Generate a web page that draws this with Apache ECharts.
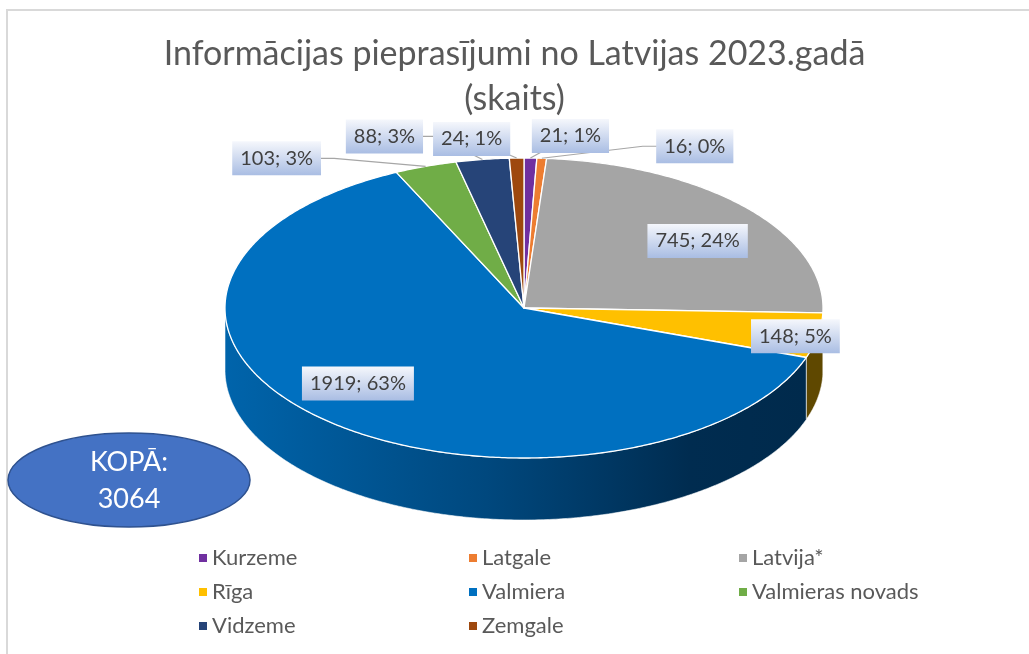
<!DOCTYPE html>
<html>
<head>
<meta charset="utf-8">
<title>Informācijas pieprasījumi no Latvijas 2023</title>
<style>
  html, body { margin: 0; padding: 0; background: #fff; }
  #chart { width: 1029px; height: 654px; }
</style>
</head>
<body>
<div id="chart"></div>
<script src="https://cdn.jsdelivr.net/npm/echarts@6/dist/echarts.min.js"></script>
<script>
var regions = ['Kurzeme', 'Latgale', 'Latvija*', 'Rīga', 'Valmiera', 'Valmieras novads', 'Vidzeme', 'Zemgale'];
var counts = [21, 16, 745, 148, 1919, 103, 88, 24];
var shares = ['1%', '0%', '24%', '5%', '63%', '3%', '3%', '1%'];

var topColors = ['#7030a0', '#ed7d31', '#a5a5a5', '#ffc000', '#0070c0', '#70ad47', '#264478', '#9e480e'];
var sideColors = ['#3a1854', '#7a3f18', '#565656', '#5f4800', null, '#3a5a25', '#13233e', '#512507'];

// label placement: [radius factor, dx, dy] from the slice point
var labelPlace = [[1, 40, -22], [1, 153, -12], [0.78, 0, 11], [0.92, 1, 3], [0.83, 0, -17], [1, -149, -8], [1, -98, -23], [1, -45, -19]];

var pie = { cx: 524, cy: 308, rx: 299, ry: 150, depth: 62 };
var FONT = 'Lato, "Noto Sans", sans-serif';

var total = 0;
counts.forEach(function (v) { total += v; });
var from = [], acc = 0;
counts.forEach(function (v) { from.push(acc / total); acc += v; });

function rim(a, k, dy) {
	return [pie.cx + pie.rx * k * Math.sin(a), pie.cy - pie.ry * k * Math.cos(a) + (dy || 0)];
}
function arc(a1, a2, dy) {
	var pts = [];
	var n = Math.max(2, Math.ceil((a2 - a1) / 0.01));
	for (var i = 0; i <= n; i++) pts.push(rim(a1 + (a2 - a1) * i / n, 1, dy));
	return pts;
}

function sideFill(i) {
	if (i === 4) {
		return new echarts.graphic.LinearGradient(0, 0, 1, 0, [
			{ offset: 0, color: '#0064ab' },
			{ offset: 0.45, color: '#00487e' },
			{ offset: 0.8, color: '#002c50' },
			{ offset: 1, color: '#002a4c' }
		]);
	}
	return sideColors[i];
}

function renderSlice(params, api) {
	var i = params.seriesIndex;
	var a1 = api.value(0) * Math.PI * 2;
	var a2 = api.value(1) * Math.PI * 2;
	var children = [];

	// front wall, only the half facing us
	var s = Math.max(a1, Math.PI / 2), e = Math.min(a2, Math.PI * 1.5);
	if (e > s) {
		var upper = arc(s, e, 0);
		var lower = arc(s, e, pie.depth).reverse();
		children.push({
			type: 'polygon', z2: 1,
			shape: { points: upper.concat(lower) },
			style: { fill: sideFill(i), stroke: 'rgba(255,255,255,0.7)', lineWidth: 0.8 }
		});
	}

	// top face
	children.push({
		type: 'polygon', z2: 5,
		shape: { points: [[pie.cx, pie.cy]].concat(arc(a1, a2, 0)) },
		style: { fill: api.visual('color'), stroke: '#fff', lineWidth: 1.3, lineJoin: 'round' }
	});

	// data label
	var p = labelPlace[i];
	var mid = (a1 + a2) / 2;
	var anchor = rim(mid, p[0], 0);
	var lx = anchor[0] + p[1], ly = anchor[1] + p[2];
	var txt = api.value(2) + '; ' + shares[i];
	if (p[0] === 1) {
		var halfW = txt.length * 5.5 + 8;
		var pts;
		if (Math.abs(p[1]) > halfW + 20) {
			var sg = p[1] > 0 ? -1 : 1;
			pts = [anchor, [lx + sg * (halfW + 11), ly], [lx, ly]];
		} else {
			pts = [anchor, [lx, ly]];
		}
		children.push({
			type: 'polyline', z2: 20,
			shape: { points: pts },
			style: { stroke: '#a6a6a6', lineWidth: 1.2, fill: null }
		});
	}
	children.push({
		type: 'text', z2: 30, x: lx, y: ly,
		style: {
			text: txt,
			fill: '#404040',
			font: '20px ' + FONT,
			align: 'center',
			verticalAlign: 'middle',
			padding: [7, 8],
			backgroundColor: new echarts.graphic.LinearGradient(0, 0, 0, 1, [
				{ offset: 0, color: '#f5f7fc' },
				{ offset: 1, color: '#a9bde3' }
			])
		}
	});
	return { type: 'group', children: children };
}

var chart = echarts.init(document.getElementById('chart'));

var seriesList = regions.map(function (name, i) {
	return {
		name: name,
		type: 'custom',
		coordinateSystem: 'none',
		itemStyle: { color: topColors[i] },
		renderItem: renderSlice,
		data: [[from[i], from[i] + counts[i] / total, counts[i]]]
	};
});

var option = {
	animation: false,
	color: topColors,
	title: {
		text: 'Informācijas pieprasījumi no Latvijas 2023.gadā\n(skaits)',
		left: 'center',
		top: 27,
		textStyle: {
			fontFamily: FONT,
			fontSize: 34,
			fontWeight: 'normal',
			color: '#595959',
			lineHeight: 45
		}
	},
	legend: {
		data: regions,
		left: 199,
		top: 541,
		width: 820,
		padding: 0,
		itemWidth: 8,
		itemHeight: 8,
		itemGap: 0,
		icon: 'rect',
		textStyle: {
			fontFamily: FONT,
			fontSize: 22,
			color: '#595959',
			width: 257,
			lineHeight: 34
		}
	},
	graphic: [
		{
			type: 'rect', silent: true,
			shape: { x: 7, y: 10, width: 1040, height: 660 },
			style: { fill: null, stroke: '#d9d9d9', lineWidth: 2 }
		},
		{
			type: 'ellipse',
			shape: { cx: 129, cy: 480, rx: 121, ry: 47 },
			style: { fill: '#4472c4', stroke: '#2f528f', lineWidth: 1.5 }
		},
		{
			type: 'text', x: 129, y: 481,
			style: {
				text: 'KOPĀ:\n' + total,
				fill: '#fff',
				font: '27px ' + FONT,
				align: 'center',
				verticalAlign: 'middle',
				lineHeight: 37
			}
		}
	],
	series: seriesList
};

chart.setOption(option);
</script>
</body>
</html>
